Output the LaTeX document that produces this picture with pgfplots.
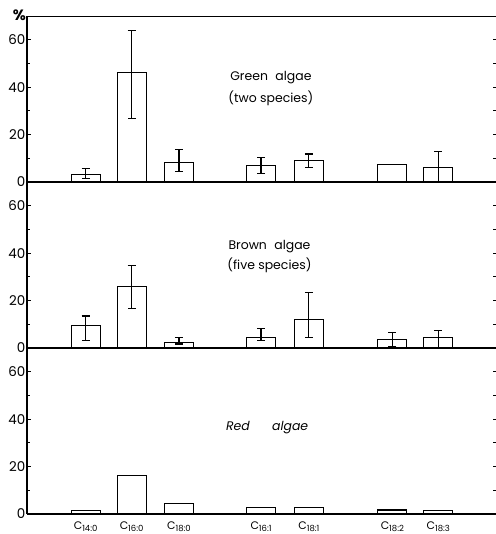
\documentclass[border=0pt]{standalone}
\usepackage{fontspec}
\setmainfont{Poppins}
\usepackage{pgfplots}
\pgfplotsset{compat=1.18}
\usepackage{pgfplotstable}

\pgfplotstableread{
x    y    ep   em
1.25 3.3  2.3  2.0
2.23 46.2 17.7 19.4
3.24 8.4  5.2  3.8
4.99 6.8  3.7  3.3
6.01 9.0  2.8  2.8
7.79 7.4  0    0
8.77 6.2  6.5  6.2
}\green

\pgfplotstableread{
x    y    ep   em
1.25 9.3  4.2  6.2
2.23 26.1 8.8  9.6
3.24 2.2  2.4  0.5
4.99 4.5  3.9  1.5
6.01 12.1 11.2 7.6
7.79 3.7  2.8  3.2
8.77 4.3  3.0  4.3
}\brown

\pgfplotstableread{
x    y
1.25 1.4
2.23 16.4
3.24 4.5
4.99 2.8
6.01 2.9
7.79 1.7
8.77 1.3
}\red

\pgfplotsset{
  panel/.style={
    scale only axis, width=469bp, height=166bp,
    xmin=0, xmax=10, ymin=0, ymax=70,
    axis x line*=bottom, axis y line*=left,
    axis line style={line width=1.3bp, black},
    ytick={0,20,40,60}, minor ytick={10,30,50},
    tick align=inside,
    major tick length=4bp, minor tick length=3bp,
    every tick/.style={line width=1bp, black},
    xtick=\empty,
    yticklabel style={font=\fontsize{13.5}{13.5}\selectfont, inner sep=1.5bp},
    /pgf/number format/assume math mode=true,
    ybar, bar width=0.617,
    clip=false,
  },
  barsty/.style={fill=white, draw=black, line width=1.1bp},
  errsty/.style={error bars/.cd, y dir=both, y explicit,
    error bar style={line width=1.1bp, black},
    error mark options={rotate=90, mark size=4bp, line width=1.1bp, black}},
}

\newcommand{\lab}[1]{C{\fontsize{8.5}{8.5}\selectfont\raisebox{-1.2pt}{#1}}}

\begin{document}
\begin{tikzpicture}
\path[use as bounding box] (0,0) rectangle (496bp,534bp);

% Green algae
\begin{axis}[panel, at={(27bp,352bp)}, anchor=south west]
\addplot[barsty, errsty] table[x=x, y=y, y error plus=ep, y error minus=em]{\green};
\draw[line width=1bp] (rel axis cs:0,1) -- (rel axis cs:1,1);
\pgfplotsinvokeforeach{10,20,30,40,50,60}{\draw[line width=1bp] (axis cs:10,#1) -- ++(-3.5bp,0);}
\node[font=\fontsize{12.5}{12.5}\selectfont] at (axis cs:5.2,43.9) {Green\hspace{0.6em}algae};
\node[font=\fontsize{12.5}{12.5}\selectfont] at (axis cs:5.2,35.4) {(two species)};
\node[anchor=east, font=\fontsize{15}{15}\selectfont\bfseries, inner sep=1bp] at ([yshift=1bp]rel axis cs:0,1) {\%};
\end{axis}

% Brown algae
\begin{axis}[panel, at={(27bp,186bp)}, anchor=south west]
\addplot[barsty, errsty] table[x=x, y=y, y error plus=ep, y error minus=em]{\brown};
\pgfplotsinvokeforeach{10,20,30,40,50,60}{\draw[line width=1bp] (axis cs:10,#1) -- ++(-3.5bp,0);}
\node[font=\fontsize{12.5}{12.5}\selectfont] at (axis cs:5.17,42.6) {Brown\hspace{0.6em}algae};
\node[font=\fontsize{12.5}{12.5}\selectfont] at (axis cs:5.17,35.0) {(five species)};
\end{axis}

% Red algae
\begin{axis}[panel, at={(27bp,20bp)}, anchor=south west,
  xtick={1.25,2.23,3.24,4.99,6.01,7.79,8.77},
  xticklabels={\lab{14:0},\lab{16:0},\lab{18:0},\lab{16:1},\lab{18:1},\lab{18:2},\lab{18:3}},
  xticklabel style={font=\fontsize{11}{11}\selectfont, inner sep=2bp, yshift=-2bp},
  x tick style={draw=none}]
\addplot[barsty] table[x=x, y=y]{\red};
\pgfplotsinvokeforeach{10,20,30,40,50,60}{\draw[line width=1bp] (axis cs:10,#1) -- ++(-3.5bp,0);}
\node[font=\fontsize{12.5}{12.5}\selectfont\itshape] at (axis cs:5.12,36.6) {Red\hspace{1.8em}algae};
\end{axis}
\end{tikzpicture}
\end{document}
